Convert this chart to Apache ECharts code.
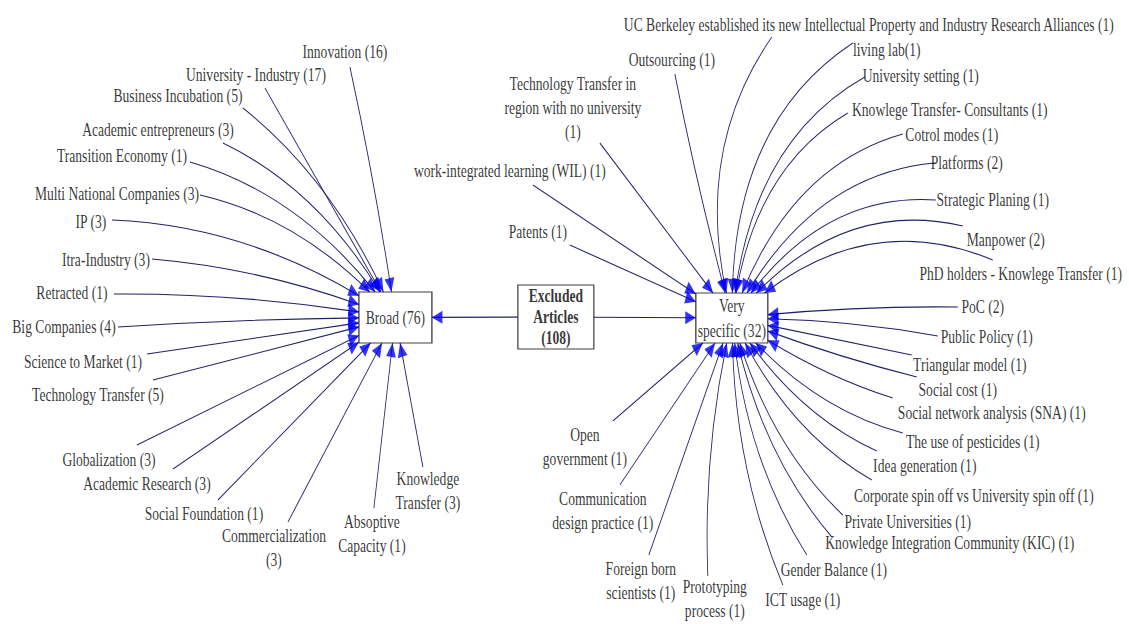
<!DOCTYPE html>
<html><head><meta charset="utf-8">
<script src="https://cdn.jsdelivr.net/npm/echarts@6/dist/echarts.min.js"></script>
<style>
html,body{margin:0;padding:0;background:#fff;overflow:hidden;width:1129px;height:624px}
#chart{width:1495.36px;height:624px;transform:scaleX(0.755);transform-origin:0 0;}
</style>
</head><body><div id="chart"></div>
<script>
// ---------- DATA (layout units of the network drawing) ----------
const hubNames = ['Broad (76)', 'Excluded\nArticles\n(108)', 'Very\nspecific (32)'];
const hubX = [395.5, 556, 732];
const hubY = [317.5, 317, 318];

const hubLinkFrom = [1, 1];
const hubLinkTo = [0, 2];

const leafNames = [
  'Innovation (16)', 'University - Industry (17)', 'Business Incubation (5)', 'Academic entrepreneurs (3)',
  'Transition Economy (1)', 'Multi National Companies (3)', 'IP (3)', 'Itra-Industry (3)',
  'Retracted (1)', 'Big Companies (4)', 'Science to Market (1)', 'Technology Transfer (5)',
  'Globalization (3)', 'Academic Research (3)', 'Social Foundation (1)', 'Commercialization\n(3)',
  'Absoptive\nCapacity (1)', 'Knowledge\nTransfer (3)',
  'UC Berkeley established its new Intellectual Property and Industry Research Alliances (1)',
  'Outsourcing (1)', 'Technology Transfer in\nregion with no university\n(1)', 'work-integrated learning (WIL) (1)',
  'Patents (1)', 'living lab(1)', 'University setting (1)', 'Knowlege Transfer- Consultants (1)',
  'Cotrol modes (1)', 'Platforms (2)', 'Strategic Planing (1)', 'Manpower (2)',
  'PhD holders - Knowlege Transfer (1)', 'PoC (2)', 'Public Policy (1)', 'Triangular model (1)',
  'Social cost (1)', 'Social network analysis (SNA) (1)', 'The use of pesticides (1)', 'Idea generation (1)',
  'Corporate spin off vs University spin off (1)', 'Private Universities (1)',
  'Knowledge Integration Community (KIC) (1)', 'Gender Balance (1)', 'ICT usage (1)',
  'Prototyping\nprocess (1)', 'Foreign born\nscientists (1)', 'Communication\ndesign practice (1)',
  'Open\ngovernment (1)'
];
const leafHub = [0,0,0,0,0,0,0,0,0,0,0,0,0,0,0,0,0,0,
  2,2,2,2,2,2,2,2,2,2,2,2,2,2,2,2,2,2,2,2,2,2,2,2,2,2,2,2,2];
const leafStartX = [350,265,243,223,190,200,112,152,114,118,147,153,137,173,218,288,374,423,
  772,675,600,533,570,853,865,848,903,935,936,963,993,958,938,912,917,893,903,877,872,843,832,807,783,708,649,620,613];
const leafStartY = [67,88,108,143,162,195,220,259,294,327,354,380,445,469,500,522,508,467,
  37,74,143,185,245,43,77,113,134,163,200,226,260,307,336,355,377,398,433,451,480,515,537,555,585,576,555,485,421];
const leafLabelX = [345,256,178,158,122,117,91,106,72,64,83,98,109,147,204,274,372,428,
  869,672,573,510,538,887,921,950,952,967,993,1006,1021,983,987,970,958,992,973,925,974,908,950,834,803,715,641,603,585];
const leafLabelY = [52,75,96,130,156,194,222,260,293,327,362,395,460,484,514,548,534,491,
  25,60,108,171,232,50,76,110,135,163,200,240,274,307,337,365,390,413,442,466,496,522,543,570,600,599,581,511,447];
const leafCurve = [0.02,0,0.12,0.14,0.14,0.12,0.1,0.05,0.03,0.01,0,0,0,0,0,0,0,0,
  -0.28,-0.02,0,0,0,-0.3,-0.27,-0.25,-0.23,-0.22,-0.22,-0.22,-0.22,-0.02,-0.03,0,0.02,0.05,0.12,0.12,0.14,0.14,0.14,0.14,0.12,0.08,0,0,0];

// ---------- STYLE ----------
const hubBoxW = [73, 76, 72];
const hubBoxH = [51, 64, 50];
const ARROW = [13, 14];
const LINE_COLOR = '#202068';
const ARROW_COLOR = '#0000f2';
const TEXT_COLOR = '#000000';
const FONT = '"Liberation Serif", "Times New Roman", serif';
const FONT_SIZE = 18;

const chart = echarts.init(document.getElementById('chart'), null, {renderer: 'svg'});
const SX = chart.getWidth() / 1129;

function boxHit(h, dx, dy) {
  const hw = hubBoxW[h] / 2, hh = hubBoxH[h] / 2;
  const tx = dx === 0 ? Infinity : hw / Math.abs(dx);
  const ty = dy === 0 ? Infinity : hh / Math.abs(dy);
  const t = Math.min(tx, ty);
  return [hubX[h] + dx * t, hubY[h] + dy * t];
}
function cpOf(s, e, c) {
  const dx = e[0] - s[0], dy = e[1] - s[1];
  return [(s[0] + e[0]) / 2 + dy * c / SX, (s[1] + e[1]) / 2 - dx * c * SX];
}

const lineData = [], arrowData = [], labelData = [];
function addEdge(s, h, c) {
  let e = boxHit(h, s[0] - hubX[h], s[1] - hubY[h]);
  for (let k = 0; k < 6; k++) {
    const cp = cpOf(s, e, c);
    e = boxHit(h, cp[0] - hubX[h], cp[1] - hubY[h]);
  }
  const cp = cpOf(s, e, c);
  const tx = e[0] - cp[0], ty = e[1] - cp[1];
  const X = tx * SX, Y = ty;
  const L = Math.hypot(X, Y);
  lineData.push({coords: [s, e], lineStyle: {curveness: c}});
  arrowData.push({
    value: [e[0] - tx / L * ARROW[1] / 2, e[1] - ty / L * ARROW[1] / 2],
    symbolRotate: Math.atan2(-X, -Y) * 180 / Math.PI
  });
}
leafNames.forEach((n, i) => {
  addEdge([leafStartX[i], leafStartY[i]], leafHub[i], leafCurve[i]);
  labelData.push({name: n, value: [leafLabelX[i], leafLabelY[i]]});
});
hubLinkFrom.forEach((f, i) => {
  const t = hubLinkTo[i];
  const s = boxHit(f, hubX[t] - hubX[f], hubY[t] - hubY[f]);
  addEdge(s, t, 0);
});

const hubData = hubNames.map((n, i) => ({
  name: n, value: [hubX[i], hubY[i]],
  symbolSize: [hubBoxW[i] * SX, hubBoxH[i]],
  label: i === 1 ? {fontWeight: 'bold', lineHeight: 21} : (i === 2 ? {lineHeight: 25} : {})
}));

chart.setOption({
  animation: false,
  backgroundColor: '#ffffff',
  grid: {left: 0, right: 0, top: 0, bottom: 0},
  xAxis: {type: 'value', min: 0, max: 1129, show: false},
  yAxis: {type: 'value', min: 0, max: 624, inverse: true, show: false},
  series: [
    {
      type: 'lines', coordinateSystem: 'cartesian2d', z: 1, silent: true,
      symbol: ['none', 'none'],
      lineStyle: {color: LINE_COLOR, width: 1.1, opacity: 1},
      data: lineData
    },
    {
      type: 'scatter', z: 2, silent: true, symbol: 'rect',
      itemStyle: {color: '#ffffff', borderColor: '#111111', borderWidth: 1.3},
      label: {show: true, position: 'inside', formatter: '{b}', fontFamily: FONT, fontSize: FONT_SIZE,
        color: TEXT_COLOR, align: 'center', verticalAlign: 'middle'},
      data: hubData
    },
    {
      type: 'scatter', z: 3, silent: true, symbol: 'triangle', symbolSize: ARROW,
      itemStyle: {color: ARROW_COLOR},
      data: arrowData
    },
    {
      type: 'scatter', z: 4, silent: true, symbolSize: 1,
      itemStyle: {color: 'rgba(0,0,0,0)'},
      label: {show: true, position: 'inside', formatter: '{b}', fontFamily: FONT, fontSize: FONT_SIZE,
        lineHeight: 24, color: TEXT_COLOR, align: 'center', verticalAlign: 'middle'},
      data: labelData
    }
  ]
});
</script>
</body></html>
